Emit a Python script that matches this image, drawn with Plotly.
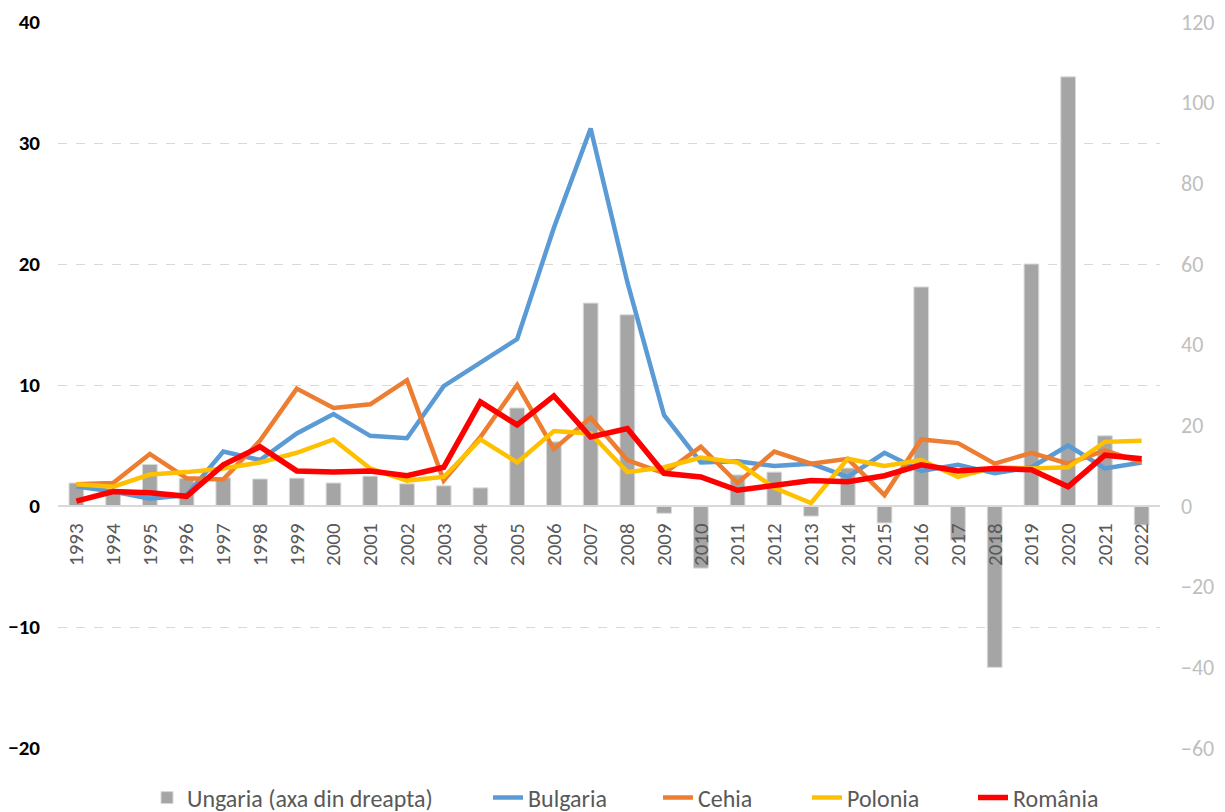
import plotly.graph_objects as go

years = list(range(1993, 2023))

ungaria = [5.7, 3.2, 10.3, 6.8, 7.0, 6.7, 6.9, 5.7, 7.4, 5.5,
           5.0, 4.5, 24.3, 15.9, 50.3, 47.4, -1.8, -15.4, 7.7, 8.4,
           -2.5, 9.4, -4.2, 54.3, -8.4, -40.0, 60.0, 106.4, 17.4, -4.7]

bulgaria = [1.6, 1.2, 0.6, 0.9, 4.5, 3.8, 6.0, 7.6, 5.8, 5.6,
            9.9, 11.8, 13.8, 23.0, 31.2, 18.5, 7.5, 3.6, 3.7, 3.3,
            3.5, 2.4, 4.4, 2.9, 3.4, 2.7, 3.2, 5.0, 3.1, 3.6]

cehia = [1.8, 1.9, 4.3, 2.3, 2.2, 5.4, 9.7, 8.1, 8.4, 10.4,
         2.1, 5.7, 10.0, 4.7, 7.3, 3.8, 2.7, 4.9, 1.9, 4.5,
         3.5, 3.9, 0.9, 5.5, 5.2, 3.5, 4.4, 3.5, 4.6, 3.6]

polonia = [1.8, 1.6, 2.6, 2.8, 3.1, 3.6, 4.4, 5.5, 3.1, 2.1,
           2.4, 5.5, 3.6, 6.2, 6.0, 2.8, 3.2, 4.0, 3.6, 1.5,
           0.25, 3.9, 3.3, 3.8, 2.4, 3.2, 3.1, 3.2, 5.3, 5.4]

romania = [0.4, 1.2, 1.1, 0.8, 3.4, 4.9, 2.9, 2.8, 2.9, 2.5,
           3.2, 8.6, 6.7, 9.1, 5.7, 6.4, 2.7, 2.4, 1.3, 1.7,
           2.1, 2.0, 2.5, 3.4, 2.9, 3.1, 3.0, 1.6, 4.2, 3.9]

left_ticks = [40, 30, 20, 10, 0, -10, -20]
right_ticks = [120, 100, 80, 60, 40, 20, 0, -20, -40, -60]

FONT = "Carlito, Liberation Sans, Arial, sans-serif"

fig = go.Figure()

fig.add_trace(go.Bar(
    x=years, y=ungaria, name="Ungaria (axa din dreapta)",
    marker=dict(color="#A5A5A5", line=dict(color="#D9D9D9", width=1)),
    width=0.4, yaxis="y", xaxis="x", legend="legend",
))

line_specs = [
    ("Bulgaria", bulgaria, "#5B9BD5", 4.5, "legend2"),
    ("Cehia", cehia, "#ED7D31", 4.5, "legend3"),
    ("Polonia", polonia, "#FFC000", 4.5, "legend4"),
    ("România", romania, "#FF0000", 5.5, "legend5"),
]
for name, vals, color, w, leg in line_specs:
    fig.add_trace(go.Scatter(
        x=years, y=vals, name=name, mode="lines",
        line=dict(color=color, width=w), yaxis="y2", xaxis="x", legend=leg,
    ))

# plot area spans page y 22..748, x 58..1160 (body margin removed below)
W, H = 1225, 812
top, bot = 22, 748
left, right = 58, 1160
ph = bot - top
pw = right - left
leg_y = (bot - 798) / ph

def legx(page_x):
    return (page_x - left) / pw

def leg(page_x):
    return dict(orientation="h", x=legx(page_x), xanchor="left", y=leg_y, yanchor="middle",
                font=dict(size=24, color="#595959"), bgcolor="rgba(0,0,0,0)")

fig.update_layout(
    width=W, height=H,
    margin=dict(l=left, r=W - right, t=top, b=H - bot, autoexpand=False),
    plot_bgcolor="white", paper_bgcolor="white",
    font=dict(family=FONT, color="#595959"),
    showlegend=True,
    legend=leg(147),
    legend2=leg(488),
    legend3=leg(658),
    legend4=leg(807),
    legend5=leg(973),
    xaxis=dict(
        tickmode="array", tickvals=years, ticktext=[str(y) for y in years],
        range=[1992.5, 2022.5], tickangle=-90,
        anchor="free", position=1 / 3,
        showline=True, linecolor="#D9D9D9", linewidth=2,
        showgrid=False, zeroline=False, ticks="",
        tickfont=dict(size=21, color="#595959"),
        ticklabelstandoff=8, automargin=False,
    ),
    yaxis=dict(
        side="right", range=[-60, 120], tickvals=right_ticks,
        showgrid=False, zeroline=False,
        tickfont=dict(size=22, color="#BFBFBF"),
        ticklabelstandoff=20, automargin=False,
    ),
    yaxis2=dict(
        side="left", overlaying="y", range=[-20, 40], tickvals=left_ticks,
        showgrid=True, gridcolor="#D9D9D9", griddash="dash", gridwidth=1,
        zeroline=False, automargin=False,
        tickfont=dict(size=21, color="black", weight="bold"),
        ticklabelstandoff=17,
    ),
    bargap=0.6,
)

fig.write_html(
    "out.html",
    config={"displayModeBar": False},
    post_script="document.body.style.margin='0px';document.body.style.overflow='hidden';",
)
